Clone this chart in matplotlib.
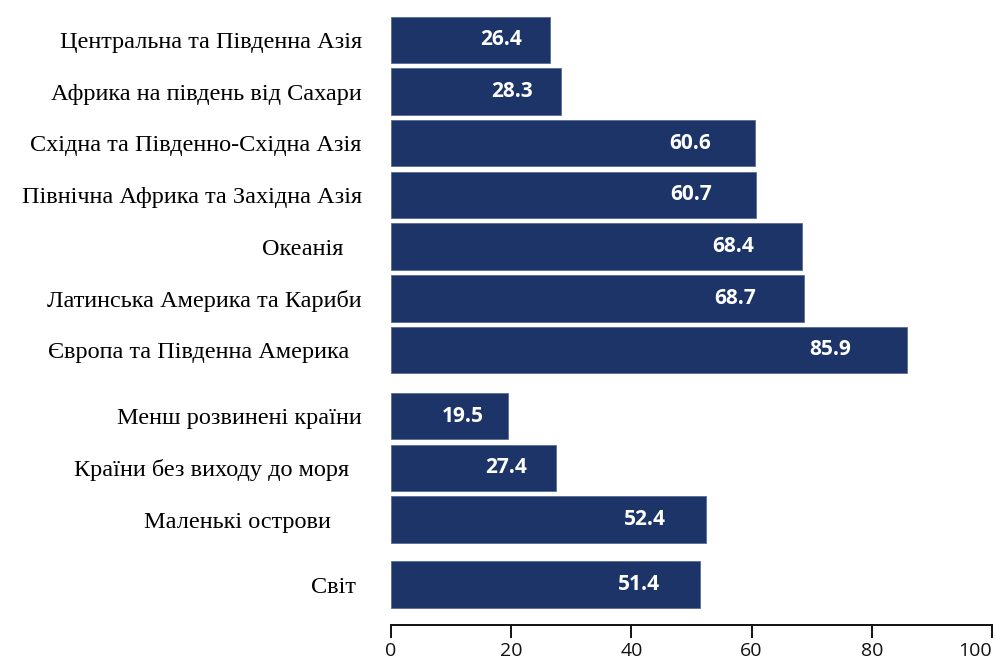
import matplotlib.pyplot as plt

regions = ["Центральна та Південна Азія", "Африка на південь від Сахари",
           "Східна та Південно-Східна Азія", "Північна Африка та Західна Азія",
           "Океанія", "Латинська Америка та Кариби", "Європа та Південна Америка"]
region_vals = [26.4, 28.3, 60.6, 60.7, 68.4, 68.7, 85.9]

special = ["Менш розвинені країни", "Країни без виходу до моря", "Маленькі острови"]
special_vals = [19.5, 27.4, 52.4]

world = ["Світ"]
world_vals = [51.4]

# trailing spaces like in the original labels
pad = {"Океанія": "   ", "Європа та Південна Америка": "  ",
       "Маленькі острови": "     ", "Світ": " ",
       "Країни без виходу до моря": "  "}

groups = [(regions, region_vals), (special, special_vals), (world, world_vals)]
gaps = [0, 0.28, 0.26]

labels, vals, pos = [], [], []
y = 0.0
for (names, v), g in zip(groups, gaps):
    y += g
    for n, val in zip(names, v):
        labels.append(n + pad.get(n, ""))
        vals.append(val)
        pos.append(y)
        y += 1
navy = "#1c3468"

fig = plt.figure(figsize=(9.96, 6.63), dpi=100)
ax = fig.add_axes([0.3926, 0.0573, 0.6034, 0.9427])

ax.barh(pos, vals, height=0.9, color=navy, edgecolor="#5a6c94", linewidth=0.6)
for p, v in zip(pos, vals):
    ax.text(v * 0.92 - 2.5, p, f"{v:.1f}", ha="right", va="center",
            color="white", fontsize=15, fontweight="bold", family="Open Sans")

ax.set_xlim(0, 100)
ax.set_ylim(11.32, -0.77)
ax.set_yticks(pos)
ax.set_yticklabels(labels, family="Liberation Serif", fontsize=17.5)
ax.tick_params(axis="y", length=0, pad=21)
ax.set_xticks([0, 20, 40, 60, 80, 100])
ax.tick_params(axis="x", length=9, width=1.4, labelsize=14, colors="#111111", pad=3)
for t in ax.get_xticklabels():
    t.set_family("Open Sans")
ax.get_xticklabels()[-1].set_ha("right")

for s in ["top", "right", "left"]:
    ax.spines[s].set_visible(False)
ax.spines["bottom"].set_linewidth(1.4)
ax.spines["bottom"].set_color("#111111")

plt.savefig("out.png", dpi=100)
